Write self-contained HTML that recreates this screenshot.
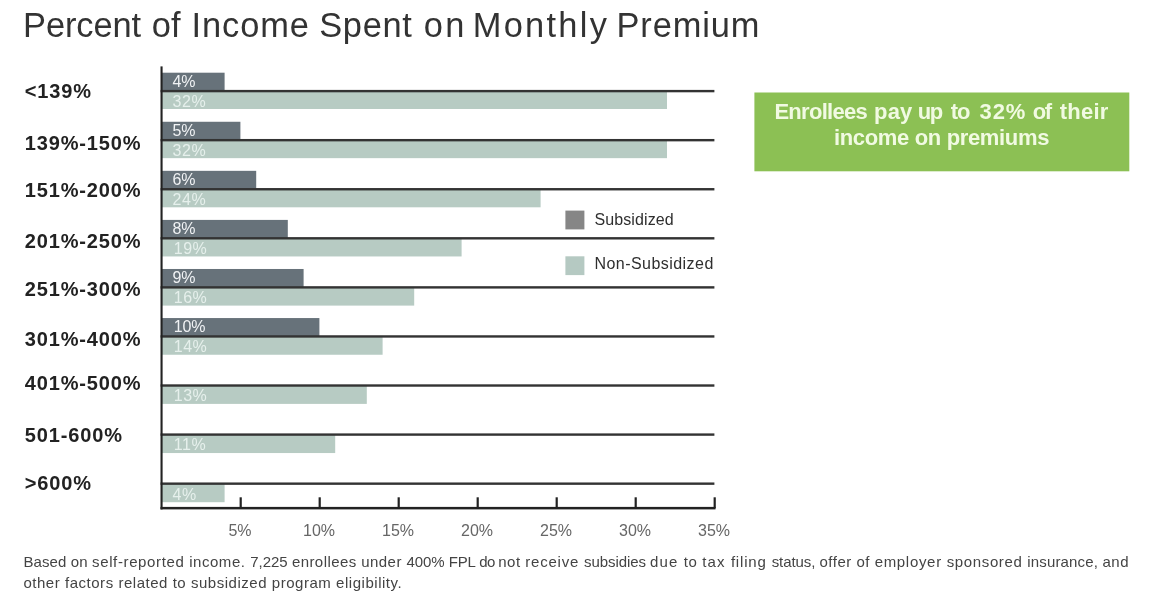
<!DOCTYPE html>
<html lang="en">
<head>
<meta charset="utf-8">
<title>Percent of Income Spent on Monthly Premium</title>
<style>
html,body{margin:0;padding:0;background:#fff;}
body{width:1152px;height:608px;position:relative;overflow:hidden;font-family:"Liberation Sans",Arial,sans-serif;}
.abs{position:absolute;white-space:nowrap;line-height:1;}
h1.title{margin:0;font-weight:400;font-size:34.4px;color:#333;left:0;top:7.9px;width:800px;height:38px;}
h1.title span{position:absolute;top:0;}
.cat{font-weight:700;font-size:20px;color:#222;left:24.8px;letter-spacing:0.85px;}
svg.chart{position:absolute;left:0;top:0;}
.bl{font-size:16px;left:172.6px;letter-spacing:-0.2px;}
.bl.d{color:#f0f2f4;}
.bl.l{color:#e6f0ec;letter-spacing:0.5px;}
.tl{font-size:16px;color:#666;top:522.6px;width:60px;text-align:center;}
.callout{position:absolute;left:754px;top:93px;width:375px;height:78px;}
.callout p{margin:0;position:absolute;left:0;width:375px;height:26px;color:#f1fae2;font-weight:700;font-size:22px;line-height:26px;white-space:nowrap;}
.callout p.l1{top:6px;}
.callout p.l1 span{position:absolute;top:0;}
.callout p.l2{top:32px;text-align:center;letter-spacing:-0.34px;}
.lt{font-size:16px;color:#2f2f2f;left:594.5px;}
.foot{font-size:15px;color:#444;left:23.4px;letter-spacing:0.41px;}
</style>
</head>
<body>
<h1 class="abs title"><span style="left:23.1px;letter-spacing:-0.08px">Percent</span> <span style="left:151.8px;letter-spacing:0.04px">of</span> <span style="left:191.6px;letter-spacing:0.91px">Income</span> <span style="left:319.2px;letter-spacing:0.71px">Spent</span> <span style="left:423.8px;letter-spacing:2.40px">on</span> <span style="left:472.7px;letter-spacing:2.30px">Monthly</span> <span style="left:616.5px;letter-spacing:0.90px">Premium</span></h1>
<svg class="chart" width="1152" height="608" viewBox="0 0 1152 608">
<rect x="161.4" y="72.70" width="63.2" height="18.4" fill="#67727a"/>
<rect x="161.4" y="91.10" width="505.6" height="17.90" fill="#b7cbc3"/>
<rect x="160.6" y="89.90" width="553.8" height="2.4" fill="#333"/>
<rect x="161.4" y="121.77" width="79.0" height="18.4" fill="#67727a"/>
<rect x="161.4" y="140.17" width="505.6" height="17.98" fill="#b7cbc3"/>
<rect x="160.6" y="138.97" width="553.8" height="2.4" fill="#333"/>
<rect x="161.4" y="170.84" width="94.8" height="18.4" fill="#67727a"/>
<rect x="161.4" y="189.24" width="379.2" height="18.06" fill="#b7cbc3"/>
<rect x="160.6" y="188.04" width="553.8" height="2.4" fill="#333"/>
<rect x="161.4" y="219.91" width="126.4" height="18.4" fill="#67727a"/>
<rect x="161.4" y="238.31" width="300.2" height="18.14" fill="#b7cbc3"/>
<rect x="160.6" y="237.11" width="553.8" height="2.4" fill="#333"/>
<rect x="161.4" y="268.98" width="142.2" height="18.4" fill="#67727a"/>
<rect x="161.4" y="287.38" width="252.8" height="18.22" fill="#b7cbc3"/>
<rect x="160.6" y="286.18" width="553.8" height="2.4" fill="#333"/>
<rect x="161.4" y="318.05" width="158.0" height="18.4" fill="#67727a"/>
<rect x="161.4" y="336.45" width="221.2" height="18.30" fill="#b7cbc3"/>
<rect x="160.6" y="335.25" width="553.8" height="2.4" fill="#333"/>
<rect x="161.4" y="385.52" width="205.4" height="18.38" fill="#b7cbc3"/>
<rect x="160.6" y="384.32" width="553.8" height="2.4" fill="#333"/>
<rect x="161.4" y="434.59" width="173.8" height="18.46" fill="#b7cbc3"/>
<rect x="160.6" y="433.39" width="553.8" height="2.4" fill="#333"/>
<rect x="161.4" y="483.66" width="63.2" height="18.54" fill="#b7cbc3"/>
<rect x="160.6" y="482.46" width="553.8" height="2.4" fill="#333"/>
<rect x="160.5" y="506.9" width="555" height="2.5" fill="#222"/>
<rect x="160.5" y="66.4" width="2.1" height="443" fill="#222"/>
<rect x="239.6" y="497.3" width="2.2" height="11" fill="#222"/>
<rect x="318.6" y="497.3" width="2.2" height="11" fill="#222"/>
<rect x="397.6" y="497.3" width="2.2" height="11" fill="#222"/>
<rect x="476.6" y="497.3" width="2.2" height="11" fill="#222"/>
<rect x="555.6" y="497.3" width="2.2" height="11" fill="#222"/>
<rect x="634.6" y="497.3" width="2.2" height="11" fill="#222"/>
<rect x="713.6" y="497.3" width="2.2" height="11" fill="#222"/>
<rect x="754.4" y="92.5" width="374.9" height="78.8" fill="#8cc054"/>
<rect x="565.4" y="210.6" width="19" height="18.8" fill="#868686"/>
<rect x="565.4" y="256.3" width="19" height="18.8" fill="#b5c9c2"/>
</svg>
<div class="abs cat" style="top:80.8px">&lt;139%</div>
<div class="abs bl d" style="top:74px">4%</div>
<div class="abs bl l" style="top:94px">32%</div>
<div class="abs cat" style="top:132.6px">139%-150%</div>
<div class="abs bl d" style="top:123px">5%</div>
<div class="abs bl l" style="top:143px">32%</div>
<div class="abs cat" style="top:180.1px">151%-200%</div>
<div class="abs bl d" style="top:172px">6%</div>
<div class="abs bl l" style="top:192px">24%</div>
<div class="abs cat" style="top:231.1px">201%-250%</div>
<div class="abs bl d" style="top:221px">8%</div>
<div class="abs bl l" style="top:241px;left:173.8px">19%</div>
<div class="abs cat" style="top:278.5px">251%-300%</div>
<div class="abs bl d" style="top:270px">9%</div>
<div class="abs bl l" style="top:290px;left:173.8px">16%</div>
<div class="abs cat" style="top:328.7px">301%-400%</div>
<div class="abs bl d" style="top:319px;left:173.8px">10%</div>
<div class="abs bl l" style="top:339px;left:173.8px">14%</div>
<div class="abs cat" style="top:372.6px">401%-500%</div>
<div class="abs bl l" style="top:388px;left:173.8px">13%</div>
<div class="abs cat" style="top:425.1px">501-600%</div>
<div class="abs bl l" style="top:437px;left:173.8px">11%</div>
<div class="abs cat" style="top:473.1px">&gt;600%</div>
<div class="abs bl l" style="top:487px">4%</div>
<div class="abs tl" style="left:210.0px">5%</div>
<div class="abs tl" style="left:289.0px">10%</div>
<div class="abs tl" style="left:368.0px">15%</div>
<div class="abs tl" style="left:447.0px">20%</div>
<div class="abs tl" style="left:526.0px">25%</div>
<div class="abs tl" style="left:605.0px">30%</div>
<div class="abs tl" style="left:684.0px">35%</div>
<div class="abs lt" style="top:212px;letter-spacing:0.1px">Subsidized</div>
<div class="abs lt" style="top:255.8px;letter-spacing:0.45px">Non-Subsidized</div>
<div class="callout"><p class="l1"><span style="left:20.4px;letter-spacing:-0.7px">Enrollees</span> <span style="left:120.1px;letter-spacing:0.1px">pay</span> <span style="left:163.8px;letter-spacing:-1.4px">up</span> <span style="left:196.8px;letter-spacing:-1.05px">to</span> <span style="left:225.5px;letter-spacing:0.9px">32%</span> <span style="left:278.7px;letter-spacing:-1.45px">of</span> <span style="left:305.7px;letter-spacing:0.25px">their</span></p>
<p class="l2">income on premiums</p></div>
<div class="abs foot" style="top:554px"><span style="letter-spacing:0.11px">Based </span><span style="letter-spacing:0.14px">on </span><span style="letter-spacing:0.63px">self-reported </span><span style="letter-spacing:0.53px">income. </span><span style="letter-spacing:-0.00px">7,225 </span><span style="letter-spacing:0.43px">enrollees </span><span style="letter-spacing:0.45px">under </span><span style="letter-spacing:-0.07px">400% </span><span style="letter-spacing:-0.11px">FPL </span><span style="letter-spacing:-0.68px">do </span><span style="letter-spacing:0.52px">not </span><span style="letter-spacing:0.78px">receive </span><span style="letter-spacing:-0.08px">subsidies </span><span style="letter-spacing:1.13px">due </span><span style="letter-spacing:0.61px">to </span><span style="letter-spacing:1.13px">tax </span><span style="letter-spacing:0.82px">filing </span><span style="letter-spacing:-0.06px">status, </span><span style="letter-spacing:0.51px">offer </span><span style="letter-spacing:0.48px">of </span><span style="letter-spacing:0.69px">employer </span><span style="letter-spacing:0.63px">sponsored </span><span style="letter-spacing:0.16px">insurance, </span><span style="letter-spacing:0.62px">and</span></div>
<div class="abs foot" style="top:575.4px"><span style="letter-spacing:0.53px">other </span><span style="letter-spacing:0.53px">factors </span><span style="letter-spacing:0.53px">related </span><span style="letter-spacing:0.53px">to </span><span style="letter-spacing:0.53px">subsidized </span><span style="letter-spacing:0.53px">program </span><span style="letter-spacing:0.53px">eligibility.</span></div>
</body>
</html>
